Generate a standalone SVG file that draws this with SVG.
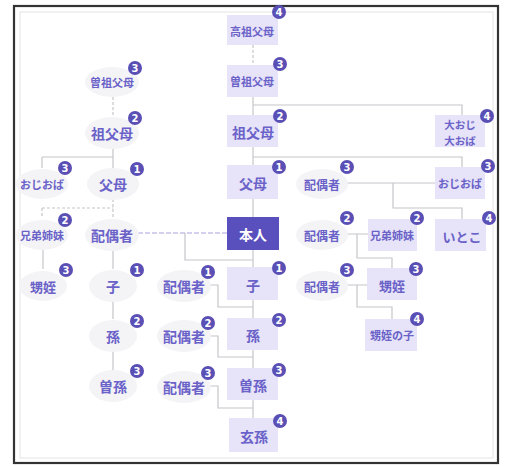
<svg xmlns="http://www.w3.org/2000/svg" width="506" height="466" viewBox="0 0 506 466">
<style>
text{font-family:"Noto Sans CJK JP","Noto Sans",sans-serif;font-weight:700;fill:#6a62c8;text-anchor:middle;dominant-baseline:central}
.box{fill:#e7e3f8}
.me{fill:#5a50bd}
.blob{fill:#f4f4f7}
.c{fill:none;stroke:#c6c6ca;stroke-width:1.2}
.d{fill:none;stroke:#c6c6ca;stroke-width:1.2;stroke-dasharray:3 2}
.sp{fill:none;stroke:#a9a2dd;stroke-width:1.2;stroke-dasharray:5 2}
.b circle{fill:#5a4fb5}
.b text{fill:#fff;font-size:10px;font-family:"DejaVu Sans",sans-serif}
.s14{font-size:14px}.s13{font-size:13px}.s12{font-size:12px}.s11{font-size:11px}.s10{font-size:10.5px}
</style>
<rect x="0" y="0" width="506" height="466" fill="#fff"/>
<rect x="20" y="12" width="473" height="446" fill="none" stroke="#e4e4e6" stroke-width="1"/>
<rect x="14" y="6" width="484" height="457" fill="none" stroke="#333" stroke-width="2.2"/>
<g id="connectors">
<path class="d" d="M253 45V65"/>
<path class="c" d="M253 97V115M253 105H462V115"/>
<path class="c" d="M253 147V165M253 157H462V167"/>
<path class="c" d="M253 199V217"/>
<path class="c" d="M253 250V267"/>
<path class="c" d="M185 233V260H253"/>
<path class="sp" d="M138 233H227"/>
<path class="c" d="M253 300V318M207 285H218V307H253"/>
<path class="c" d="M253 350V368M207 336H218V357H253"/>
<path class="c" d="M253 400V418M207 386H218V408H253"/>
<path class="d" d="M113 97V116"/>
<path class="c" d="M113 148V168M42 157H113M42 157V168"/>
<path class="d" d="M113 199V218M42 208H113M42 208V218"/>
<path class="c" d="M43 250V269M113 250V269M113 300V319M113 350V370"/>
<path class="c" d="M346 183H435M393 183V208H462V219"/>
<path class="c" d="M347 234H368M357 234V258H392V268"/>
<path class="c" d="M347 285H367M357 285V307H392V319"/>
</g>
<g id="n-koso"><rect class="box" x="227" y="15" width="51" height="30"/><text class="s11" x="252" y="31">高祖父母</text><g class="b"><circle cx="279" cy="12" r="7"/><text x="279" y="12.5">4</text></g></g>
<g id="n-sooso"><rect class="box" x="227" y="65" width="51" height="32"/><text class="s11" x="252" y="81">曽祖父母</text><g class="b"><circle cx="280" cy="64" r="7"/><text x="280" y="64.5">3</text></g></g>
<g id="n-sofubo"><rect class="box" x="227" y="115" width="51" height="32"/><text class="s14" x="253" y="132">祖父母</text><g class="b"><circle cx="280" cy="116" r="7"/><text x="280" y="116.5">2</text></g></g>
<g id="n-fubo"><rect class="box" x="227" y="165" width="51" height="34"/><text class="s14" x="253" y="183">父母</text><g class="b"><circle cx="279" cy="167" r="7"/><text x="279" y="167.5">1</text></g></g>
<g id="n-honnin"><rect class="me" x="227" y="217" width="52" height="33"/><text class="s14" x="253" y="234" style="fill:#fff">本人</text></g>
<g id="n-ko"><rect class="box" x="227" y="267" width="51" height="33"/><text class="s14" x="253" y="285">子</text><g class="b"><circle cx="279" cy="268" r="7"/><text x="279" y="268.5">1</text></g></g>
<g id="n-mago"><rect class="box" x="227" y="318" width="51" height="32"/><text class="s14" x="253" y="335">孫</text><g class="b"><circle cx="279" cy="320" r="7"/><text x="279" y="320.5">2</text></g></g>
<g id="n-himago"><rect class="box" x="227" y="368" width="51" height="32"/><text class="s14" x="253" y="385">曽孫</text><g class="b"><circle cx="279" cy="370" r="7"/><text x="279" y="370.5">3</text></g></g>
<g id="n-yashago"><rect class="box" x="229" y="418" width="49" height="34"/><text class="s14" x="254" y="436">玄孫</text><g class="b"><circle cx="280" cy="421" r="7"/><text x="280" y="421.5">4</text></g></g>
<g id="n-ooji"><rect class="box" x="435" y="115" width="50" height="32"/><text class="s10" x="460" y="124">大おじ</text><text class="s10" x="460" y="140">大おば</text><g class="b"><circle cx="487" cy="116" r="7"/><text x="487" y="116.5">4</text></g></g>
<g id="n-oji-r"><rect class="box" x="435" y="167" width="50" height="32"/><text class="s11" x="460" y="183">おじおば</text><g class="b"><circle cx="488" cy="166" r="7"/><text x="488" y="166.5">3</text></g></g>
<g id="n-itoko"><rect class="box" x="435" y="219" width="51" height="32"/><text class="s13" x="462" y="236">いとこ</text><g class="b"><circle cx="489" cy="218" r="7"/><text x="489" y="218.5">4</text></g></g>
<g id="n-kyodai-r"><rect class="box" x="368" y="219" width="49" height="32"/><text class="s11" x="392" y="235">兄弟姉妹</text><g class="b"><circle cx="417" cy="218" r="7"/><text x="417" y="218.5">2</text></g></g>
<g id="n-oimei-r"><rect class="box" x="367" y="268" width="50" height="32"/><text class="s13" x="392" y="285">甥姪</text><g class="b"><circle cx="416" cy="269" r="7"/><text x="416" y="269.5">3</text></g></g>
<g id="n-oimeinoko"><rect class="box" x="365" y="319" width="52" height="32"/><text class="s11" x="392" y="335">甥姪の子</text><g class="b"><circle cx="417" cy="319" r="7"/><text x="417" y="319.5">4</text></g></g>
<g id="n-sp-r3"><ellipse class="blob" cx="322" cy="184" rx="26" ry="15"/><text class="s12" x="322" y="184">配偶者</text><g class="b"><circle cx="347" cy="167" r="7"/><text x="347" y="167.5">3</text></g></g>
<g id="n-sp-r2"><ellipse class="blob" cx="322" cy="235" rx="26" ry="15"/><text class="s12" x="322" y="235">配偶者</text><g class="b"><circle cx="347" cy="218" r="7"/><text x="347" y="218.5">2</text></g></g>
<g id="n-sp-r3b"><ellipse class="blob" cx="322" cy="286" rx="26" ry="15"/><text class="s12" x="322" y="286">配偶者</text><g class="b"><circle cx="347" cy="270" r="7"/><text x="347" y="270.5">3</text></g></g>
<g id="n-sooso-l"><ellipse class="blob" cx="112" cy="82" rx="27" ry="15"/><text class="s11" x="112" y="82">曽祖父母</text><g class="b"><circle cx="135" cy="68" r="7"/><text x="135" y="68.5">3</text></g></g>
<g id="n-sofubo-l"><ellipse class="blob" cx="112" cy="133" rx="27" ry="16"/><text class="s14" x="112" y="133">祖父母</text><g class="b"><circle cx="135" cy="118" r="7"/><text x="135" y="118.5">2</text></g></g>
<g id="n-oji-l"><ellipse class="blob" cx="42" cy="184" rx="26" ry="15"/><text class="s11" x="42" y="184">おじおば</text><g class="b"><circle cx="65" cy="168" r="7"/><text x="65" y="168.5">3</text></g></g>
<g id="n-fubo-l"><ellipse class="blob" cx="113" cy="184" rx="26" ry="16"/><text class="s14" x="113" y="184">父母</text><g class="b"><circle cx="137" cy="169" r="7"/><text x="137" y="169.5">1</text></g></g>
<g id="n-kyodai-l"><ellipse class="blob" cx="42" cy="235" rx="26" ry="15"/><text class="s11" x="42" y="235">兄弟姉妹</text><g class="b"><circle cx="65" cy="220" r="7"/><text x="65" y="220.5">2</text></g></g>
<g id="n-haigusha"><ellipse class="blob" cx="112" cy="235" rx="27" ry="16"/><text class="s14" x="112" y="235">配偶者</text></g>
<g id="n-oimei-l"><ellipse class="blob" cx="43" cy="286" rx="24" ry="15"/><text class="s13" x="43" y="286">甥姪</text><g class="b"><circle cx="66" cy="270" r="7"/><text x="66" y="270.5">3</text></g></g>
<g id="n-ko-l"><ellipse class="blob" cx="113" cy="286" rx="24" ry="16"/><text class="s14" x="113" y="286">子</text><g class="b"><circle cx="137" cy="270" r="7"/><text x="137" y="270.5">1</text></g></g>
<g id="n-mago-l"><ellipse class="blob" cx="113" cy="336" rx="24" ry="16"/><text class="s14" x="113" y="336">孫</text><g class="b"><circle cx="137" cy="321" r="7"/><text x="137" y="321.5">2</text></g></g>
<g id="n-himago-l"><ellipse class="blob" cx="113" cy="386" rx="24" ry="16"/><text class="s14" x="113" y="386">曽孫</text><g class="b"><circle cx="137" cy="371" r="7"/><text x="137" y="371.5">3</text></g></g>
<g id="n-sp-c1"><ellipse class="blob" cx="184" cy="286" rx="27" ry="16"/><text class="s14" x="184" y="286">配偶者</text><g class="b"><circle cx="208" cy="272" r="7"/><text x="208" y="272.5">1</text></g></g>
<g id="n-sp-c2"><ellipse class="blob" cx="184" cy="336" rx="27" ry="16"/><text class="s14" x="184" y="336">配偶者</text><g class="b"><circle cx="208" cy="323" r="7"/><text x="208" y="323.5">2</text></g></g>
<g id="n-sp-c3"><ellipse class="blob" cx="184" cy="387" rx="27" ry="16"/><text class="s14" x="184" y="387">配偶者</text><g class="b"><circle cx="208" cy="373" r="7"/><text x="208" y="373.5">3</text></g></g>
</svg>
